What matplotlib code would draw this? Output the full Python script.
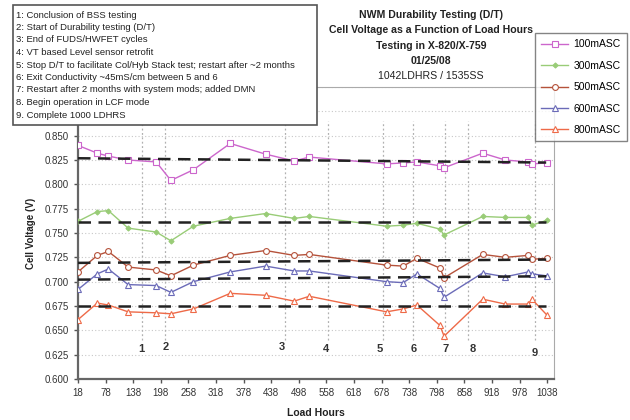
import matplotlib
matplotlib.use("Agg")
import matplotlib.pyplot as plt
from matplotlib.patches import Rectangle
import numpy as np

plt.rcParams['font.family'] = ['Liberation Sans', 'DejaVu Sans']

# ---------------- data ----------------
hours = [18, 60, 84, 127, 188, 220, 269, 349, 426, 488, 521,
         689, 725, 755, 805, 814, 898, 947, 997, 1005, 1037]

v100 = [0.840, 0.832, 0.829, 0.825, 0.823, 0.804, 0.815, 0.842, 0.831, 0.824, 0.828,
        0.821, 0.822, 0.823, 0.819, 0.817, 0.832, 0.825, 0.823, 0.821, 0.822]
v300 = [0.762, 0.772, 0.773, 0.755, 0.751, 0.742, 0.757, 0.765, 0.770, 0.765, 0.767,
        0.757, 0.758, 0.760, 0.754, 0.748, 0.767, 0.766, 0.766, 0.758, 0.763]
v500 = [0.710, 0.727, 0.731, 0.715, 0.712, 0.706, 0.717, 0.727, 0.732, 0.727, 0.728,
        0.717, 0.716, 0.724, 0.714, 0.704, 0.728, 0.725, 0.727, 0.723, 0.724]
v600 = [0.692, 0.708, 0.713, 0.697, 0.696, 0.689, 0.700, 0.710, 0.716, 0.711, 0.711,
        0.700, 0.699, 0.708, 0.693, 0.684, 0.709, 0.705, 0.710, 0.708, 0.706]
v800 = [0.661, 0.678, 0.676, 0.669, 0.668, 0.667, 0.672, 0.688, 0.686, 0.680, 0.685,
        0.669, 0.672, 0.676, 0.655, 0.644, 0.682, 0.677, 0.677, 0.682, 0.666]

series_names = ['100mASC', '300mASC', '500mASC', '600mASC', '800mASC']
series_values = [v100, v300, v500, v600, v800]

# trend lines (start value, end value) over trend_hours
trend_hours = [18, 1036]
trend_start = [0.8268, 0.7615, 0.7193, 0.7021, 0.6745]
trend_end = [0.8224, 0.7615, 0.7227, 0.7055, 0.6745]

# event markers
event_ids = ['1', '2', '3', '4', '5', '6', '7', '8', '9']
event_hours = [157, 207, 468, 562, 682, 747, 816, 867, 1012]
event_label_hours = [155, 209, 462, 557, 673, 747, 818, 877, 1010]
event_label_vals = [0.631, 0.633, 0.633, 0.631, 0.631, 0.631, 0.631, 0.631, 0.627]

notes = [
    "1: Conclusion of BSS testing",
    "2: Start of Durability testing (D/T)",
    "3: End of FUDS/HWFET cycles",
    "4: VT based Level sensor retrofit",
    "5: Stop D/T to facilitate Col/Hyb Stack test; restart after ~2 months",
    "6: Exit Conductivity ~45mS/cm between 5 and 6",
    "7: Restart after 2 months with system mods; added DMN",
    "8. Begin operation in LCF mode",
    "9. Complete 1000 LDHRS",
]

title_lines = [
    "NWM Durability Testing (D/T)",
    "Cell Voltage as a Function of Load Hours",
    "Testing in X-820/X-759",
    "01/25/08",
    "1042LDHRS / 1535SS",
]

x_ticks = list(range(18, 1039, 60))
y_ticks = [0.600, 0.625, 0.650, 0.675, 0.700, 0.725, 0.750, 0.775, 0.800, 0.825, 0.850, 0.875, 0.900]
y_ticklabels = ["0.600", "0.625", "0.650", "0.675", "0.700", "0.725", "0.750", "0.775",
                "0.800", "0.825", "0.850", "", ""]  # top two are hidden behind the notes box

# ---------------- styles ----------------
colors = ['#cc66cc', '#99cc77', '#b5523b', '#6b6bb8', '#ee6a48']
markers = ['s', 'D', 'o', '^', '^']
msizes = [4.8, 2.6, 4.2, 4.8, 4.8]
mfaces = ['white', '#99cc77', 'white', 'white', 'white']

W, H = 630, 420
fig = plt.figure(figsize=(6.3, 4.2), dpi=100)
ax = fig.add_axes([78 / W, 1 - 379 / H, (554 - 78) / W, (379 - 87) / H])

ax.set_xlim(18, 1053)
ax.set_ylim(0.6, 0.9)
ax.set_yticks(y_ticks)
ax.set_yticklabels(y_ticklabels)
ax.set_xticks(x_ticks)
ax.set_xticklabels([str(t) for t in x_ticks])
ax.tick_params(axis='both', labelsize=7, colors='#555555', labelcolor='#333333',
               direction='out', length=3, width=1)

for s in ['left', 'bottom']:
    ax.spines[s].set_color('#666666')
    ax.spines[s].set_linewidth(1.6)
for s in ['top', 'right']:
    ax.spines[s].set_color('#aaaaaa')
    ax.spines[s].set_linewidth(0.8)

ax.yaxis.grid(True, linestyle=(0, (1, 2)), color='#c8c8c8', linewidth=0.8)
ax.set_axisbelow(True)

# event lines
ax.vlines(event_hours, 0.640, 0.865, colors='#b0b0b0', linestyles=(0, (1.5, 2)), linewidth=0.9, zorder=1)
for eid, eh, ev in zip(event_ids, event_label_hours, event_label_vals):
    ax.text(eh, ev, eid, ha='center', va='center', fontsize=8, fontweight='bold', color='#333333')

# series
handles = []
for name, vals, c, m, ms, mf in zip(series_names, series_values, colors, markers, msizes, mfaces):
    ln, = ax.plot(hours, vals, color=c, marker=m, markersize=ms, markerfacecolor=mf,
                  markeredgecolor=c, markeredgewidth=0.8, linewidth=1.0, label=name, zorder=3)
    handles.append(ln)

# trend lines
for ts, te in zip(trend_start, trend_end):
    ax.plot(trend_hours, [ts, te], color='#222222', linestyle=(0, (5, 3)), linewidth=1.8, zorder=4)

ax.set_xlabel("Load Hours", fontsize=7.5, fontweight='bold', color='#222222', labelpad=7)
ax.set_ylabel("Cell Voltage (V)", fontsize=7, fontweight='bold', color='#222222', labelpad=6)

# title block
title_y = [15, 30, 46, 61, 76]
for i, (t, ty) in enumerate(zip(title_lines, title_y)):
    fig.text(431 / W, 1 - ty / H, t, ha='center', va='center', fontsize=7.6,
             fontweight='bold' if i < 4 else 'normal', color='#222222')

# notes box
box = Rectangle((13 / W, 1 - 125 / H), (317 - 13) / W, (125 - 5) / H, transform=fig.transFigure,
                facecolor='white', edgecolor='#555555', linewidth=1.2, zorder=10)
fig.add_artist(box)
for i, n in enumerate(notes):
    fig.text(16 / W, 1 - (15 + 12.5 * i) / H, n, ha='left', va='center', fontsize=6.8,
             color='#222222', zorder=11)

# legend
leg = fig.legend(handles=handles, loc='upper left', bbox_to_anchor=(535 / W, 1 - 33 / H),
                 fontsize=7.5, frameon=True, fancybox=False, edgecolor='#666666',
                 handlelength=2.6, labelspacing=1.1, borderpad=0.6, borderaxespad=0,
                 handletextpad=0.5)
leg.get_frame().set_linewidth(1.0)
leg.set_zorder(12)

fig.savefig("out.png", dpi=100, facecolor='white')
